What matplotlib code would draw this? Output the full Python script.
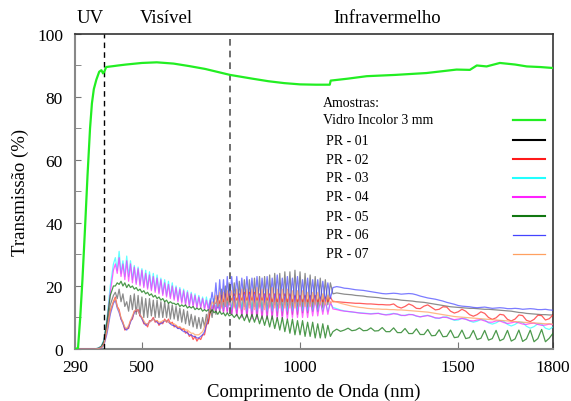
import numpy as np
import matplotlib
matplotlib.use("Agg")
import matplotlib.pyplot as plt

plt.rcParams['font.family'] = ['Liberation Serif', 'DejaVu Serif']

# ---------------- data ----------------
vidro_wl = [290, 298, 305, 312, 320, 328, 336, 342, 348, 356, 365, 372, 377, 381, 387, 394, 410, 425, 450, 500,
            547, 600, 650, 700, 779, 850, 900, 950, 1000, 1050, 1094, 1097, 1150, 1211, 1300, 1400, 1495, 1537,
            1559, 1590, 1632, 1680, 1717, 1760, 1800]
vidro_t = [0, 0.3, 10, 22, 38, 55, 70, 78, 82.5, 85.5, 88, 88.5, 87.5, 88, 89.5, 89.6, 89.8, 90, 90.3, 90.8,
           91, 90.6, 89.8, 88.9, 87, 85.8, 85, 84.4, 84, 83.9, 83.9, 85.2, 85.8, 86.6, 87, 87.6, 88.7, 88.6,
           90, 89.7, 90.8, 90.3, 89.7, 89.5, 89.2]

ONSET_WL = [290, 350, 362, 372, 380, 390, 400, 410]
VIS_WL = np.arange(416, 777, 6)     # 61 samples
NIR_WL = np.arange(784, 1097, 8)    # 40 samples
IR_WL = np.arange(1104, 1801, 12)   # 59 samples

# PR-01 (black)
pr01_on = [0, 0, 0.2, 0.8, 2.5, 8, 14, 17]
pr01_vis = [18, 16, 19, 15, 17.5, 13.5, 15, 12, 17, 12.5, 17.5, 11, 17, 10.5, 16.5, 10, 16, 10, 16, 10.5,
            15.5, 10, 15.5, 10, 15, 10, 15, 10, 14.5, 9.5, 14, 9.5, 13.5, 9, 13, 8.5, 12.5, 8, 12, 7.5,
            11, 7, 10.5, 6.5, 10, 6.5, 10, 7, 11, 8, 13, 10, 15, 11, 17, 12, 19, 12, 20, 12, 21]
pr01_nir = [11, 21, 11, 21.5, 11, 22, 10.5, 22, 10.5, 22.5, 10.5, 23, 10.5, 23, 10.5, 23.5, 10.5, 24, 10.5, 24,
            10.5, 24.5, 11, 24.5, 11, 25, 11, 24.5, 11.5, 24, 11.5, 23.5, 12, 23, 12, 22.5, 13, 22, 14, 21]
pr01_ir = [17.5, 17.8, 17.6, 17.4, 17.3, 17.2, 17.0, 16.9, 16.8, 16.6, 16.5, 16.4, 16.3, 16.1, 16.0, 15.9,
           15.8, 15.7, 15.5, 15.4, 15.3, 15.2, 15.0, 14.9, 14.8, 14.6, 14.4, 14.2, 14.0, 13.8, 13.6, 13.4,
           13.3, 13.2, 13.1, 13.0, 12.9, 12.9, 12.8, 12.7, 12.6, 12.6, 12.5, 12.4, 12.3, 12.2, 12.1, 12.0,
           11.8, 11.6, 11.5, 11.3, 11.2, 11.1, 11.0, 10.9, 10.9, 10.8, 10.8]

# PR-02 (red)
pr02_on = [0, 0, 0.1, 0.5, 1.5, 6, 12, 15]
pr02_vis = [16.5, 13.5, 12.5, 9.5, 8.5, 6, 6.5, 6.5, 9, 9.5, 12, 12, 12.5, 10.5, 10, 8, 8, 7, 9, 9,
            10, 8.5, 9, 7.5, 8.5, 8, 9.5, 8.5, 9.5, 8, 8.5, 7, 7.5, 6.5, 7, 6, 6.5, 5, 5.5, 4,
            4.5, 3, 4, 2.5, 3.5, 3, 4.5, 4.5, 7.5, 8.5, 11.5, 12.5, 14.5, 14.5, 16.5, 14.5, 17, 15, 17.5, 15.5, 17.5]
pr02_nir = [15.5, 17.5, 15.5, 17.5, 15.5, 18, 15.5, 18, 15.5, 18, 15.5, 17.5, 15.5, 17.5, 15.5, 17.5, 15, 17.5,
            15, 17.5, 15, 17.5, 15, 17.5, 15, 17, 15, 17, 15, 17, 15, 17, 15, 17, 15, 16.5, 15, 16.5, 15, 16.5]
pr02_ir = [15.0, 15.0, 14.9, 14.8, 14.7, 14.6, 14.5, 14.5, 14.4, 14.3, 14.3, 14.2, 14.1, 14.1, 14.0, 14.0,
           14.3, 13.4, 13.0, 13.5, 14.3, 13.8, 12.9, 12.8, 13.6, 14.0, 13.2, 12.4, 12.6, 13.4, 13.3, 12.0,
           11.4, 11.8, 12.6, 12.0, 10.9, 10.4, 10.9, 11.8, 11.3, 10.0, 9.4, 9.9, 11.0, 10.8, 9.4, 8.9,
           9.5, 10.8, 10.6, 9.1, 8.7, 9.4, 10.7, 10.6, 9.2, 9.6, 10.8]

# PR-03 (cyan)
pr03_on = [0, 0, 0.3, 1, 3, 10, 20, 27]
pr03_vis = [29, 25, 31, 24, 28, 23, 29.5, 23, 28, 22, 26.5, 21, 26, 20.5, 25.5, 20, 25, 19.5, 24.5, 19,
            24, 18.5, 23.5, 18, 22.5, 17.5, 22, 17, 21.5, 16.5, 21, 16, 20, 15.5, 19.5, 15, 19, 14.5, 18.5, 14,
            18, 14, 17.5, 13.5, 17, 13.5, 16.5, 13, 16.5, 13, 16, 12.5, 16, 12.5, 15.5, 12.5, 15.5, 12.5, 15.5, 13, 16]
pr03_nir = [12.5, 16.5, 12.5, 17, 12.5, 17, 12, 17, 12, 17, 12, 17, 12, 16.5, 12, 16.5, 12, 16.5, 12, 16.5,
            12, 16.5, 12, 16, 12, 16, 12, 16, 12, 15.5, 12, 15.5, 12, 15.5, 12, 15, 12, 15, 12, 14.5]
pr03_ir = [13.2, 12.8, 12.4, 12.1, 11.9, 11.7, 11.6, 11.5, 11.4, 11.3, 11.2, 11.3, 11.3, 11.0, 10.9, 11.1,
           11.3, 11.0, 10.6, 10.7, 11.0, 10.9, 10.4, 10.2, 10.5, 10.7, 10.3, 9.8, 9.7, 10.1, 10.2, 9.6,
           9.1, 9.2, 9.7, 9.6, 8.9, 8.5, 8.8, 9.4, 9.2, 8.3, 7.9, 8.3, 9.0, 8.8, 7.8, 7.3, 7.8, 8.6,
           8.4, 7.2, 6.6, 7.1, 8.0, 7.9, 6.6, 6.2, 7.0]

# PR-04 (magenta)
pr04_on = [0, 0, 0.2, 0.8, 2.5, 9, 18, 25]
pr04_vis = [27, 24, 29, 23, 27, 22, 28, 21.5, 27, 21, 26, 20.5, 25.5, 20, 25, 19.5, 24, 19, 23.5, 18.5,
            23, 18, 22.5, 17.5, 22, 17, 21, 16.5, 20.5, 16, 20, 15.5, 19.5, 15, 19, 14.5, 18.5, 14, 18, 13.5,
            17.5, 13.5, 17, 13, 16.5, 13, 16, 12.5, 15.5, 12.5, 15.5, 12, 15, 12, 15, 12, 15, 11.5, 15.5, 11.5, 16]
pr04_nir = [11, 16.5, 10.5, 17, 10, 17, 10, 17, 9.5, 17, 9.5, 17, 9.5, 17, 9.5, 17, 9.5, 17, 9.5, 17,
            9.5, 16.5, 9.5, 16.5, 10, 16.5, 10, 16.5, 10, 16, 10, 16, 10.5, 16, 10.5, 15.5, 11, 15.5, 11, 15]
pr04_ir = [12.7, 12.5, 12.2, 12.0, 11.9, 11.8, 11.6, 11.4, 11.3, 11.2, 11.1, 11.2, 11.3, 11.0, 10.8, 10.9,
           11.2, 11.1, 10.7, 10.6, 10.9, 10.9, 10.5, 10.2, 10.4, 10.6, 10.3, 9.9, 9.8, 10.1, 10.0, 9.6,
           9.3, 9.5, 9.7, 9.4, 9.0, 8.9, 9.2, 9.3, 8.9, 8.5, 8.5, 8.9, 8.9, 8.4, 8.1, 8.3, 8.6, 8.3,
           7.9, 7.8, 8.1, 8.2, 7.8, 7.5, 7.6, 7.9, 7.7]

# PR-05 (dark green)
pr05_on = [0, 0, 0.2, 0.8, 2.5, 9, 17, 20]
pr05_vis = [20, 21, 20.5, 21.5, 20, 21, 19.5, 20.5, 19.5, 20, 19, 19.5, 18.5, 19, 18, 18.5, 17.5, 18, 17, 17.5,
            16.5, 17, 16, 16.5, 15.5, 16, 15, 15.5, 14.5, 15, 14.5, 14.5, 14, 14.5, 13.5, 14, 13.5, 14, 13, 13.5,
            13, 13.5, 12.5, 13, 12.5, 13, 12, 12.5, 12, 12.5, 11.5, 12.5, 11.5, 12, 11, 12, 11, 11.5, 10.5, 11.5, 10.5]
pr05_nir = [11, 10, 11, 9.5, 11, 9, 11, 8.5, 11, 8.5, 11, 8, 10.5, 7.5, 10.5, 7, 10.5, 6.5, 10, 6,
            10, 5.5, 9.5, 5, 9.5, 4.5, 9, 4.5, 9, 4, 8.5, 4, 8.5, 3.5, 8, 3.5, 8, 3.5, 7.5, 4]
pr05_ir = [5.5, 6.3, 5.6, 6.0, 6.6, 5.8, 6.0, 6.7, 5.8, 5.9, 6.7, 5.7,
           5.8, 6.8, 5.5, 5.5, 6.7, 5.2, 5.2, 6.5, 4.9, 4.9, 6.4, 4.6,
           4.6, 6.2, 4.2, 4.3, 6.1, 3.9, 4.0, 6.0, 3.6, 3.8, 6.0, 3.3,
           3.6, 5.9, 3.0, 3.4, 5.9, 2.8, 3.3, 5.9, 2.6, 3.2, 5.9, 2.5,
           3.2, 6.0, 2.4, 3.2, 6.0, 2.3, 3.3, 6.2, 2.3, 3.4, 5.0]

# PR-06 (blue)
pr06_on = [0, 0, 0.1, 0.4, 1.2, 5, 11, 14.5]
pr06_vis = [15.5, 13, 11.5, 9.5, 8, 6.5, 6, 7, 8.5, 10, 11.5, 12.5, 12, 11, 9.5, 8.5, 7.5, 8, 8.5, 9,
            9.5, 9, 8.5, 8, 8, 8.5, 9, 9, 8.5, 8, 7.5, 7.5, 7, 6.5, 6.5, 6, 5.5, 5.5, 5, 4.5,
            4.5, 4, 4, 3.5, 3.5, 4, 4.5, 5.5, 8, 11, 14, 18, 14, 21, 13, 22, 13.5, 22, 13.5, 23, 14]
pr06_nir = [23, 13.5, 23, 13.5, 22.5, 13.5, 23, 14, 22.5, 13.5, 23, 13.5, 22.5, 14, 23, 13.5, 22.5, 14, 23.5, 14,
            22.5, 14, 23, 14, 22.5, 14.5, 23, 14, 22, 14.5, 22.5, 14.5, 22, 14.5, 22, 15, 21.5, 15, 21, 16]
pr06_ir = [19.5, 19.8, 19.6, 19.3, 19.2, 19.0, 18.8, 18.7, 18.6, 18.4, 18.2, 18.0, 17.8, 17.6, 17.5, 17.6,
           17.7, 17.6, 17.4, 17.5, 17.6, 17.5, 17.2, 16.8, 16.5, 16.2, 16.0, 15.8, 15.5, 15.2, 14.8, 14.5,
           14.2, 13.8, 13.6, 13.5, 13.4, 13.2, 13.1, 13.2, 13.3, 13.1, 12.9, 13.0, 13.1, 13.0, 12.8, 12.8,
           12.9, 12.8, 12.6, 12.7, 12.8, 12.7, 12.5, 12.5, 12.6, 12.4, 12.3]

# PR-07 (orange)
pr07_on = [0, 0, 0.1, 0.5, 1.5, 6, 12, 15]
pr07_vis = [16, 13.5, 12, 10, 8.5, 7, 6.5, 7.5, 9, 10.5, 12, 12.5, 12, 11, 10, 9, 8, 8, 8.5, 9,
            9.5, 9, 9, 8.5, 8.5, 9, 9, 9, 8.5, 8.5, 8, 8, 7.5, 7, 7, 6.5, 6.5, 6, 6, 5.5,
            5, 5, 4.5, 4.5, 4.5, 5, 5.5, 7, 9, 11, 13, 15, 14, 17, 13.5, 18, 13, 18, 13.5, 18.5, 14]
pr07_nir = [18.5, 13, 19, 13, 19, 12.5, 19, 13, 19, 12.5, 19.5, 13, 19, 12.5, 19, 13, 19.5, 13, 19, 13,
            19, 13, 19, 13, 18.5, 13, 18.5, 13.5, 18.5, 13.5, 18, 13.5, 18, 14, 18, 14, 17.5, 14, 17, 14.5]
pr07_ir = [15.3, 14.9, 14.5, 14.2, 13.9, 13.6, 13.4, 13.2, 13.1, 12.9, 12.8, 12.7, 12.7, 12.6, 12.6, 12.5,
           12.5, 12.4, 12.4, 12.3, 12.2, 12.1, 12.0, 11.9, 11.8, 11.7, 11.5, 11.3, 11.1, 10.9, 10.7, 10.5,
           10.3, 10.2, 10.1, 10.0, 9.9, 9.8, 9.7, 9.6, 9.5, 9.4, 9.3, 9.2, 9.1, 9.0, 8.9, 8.8,
           8.7, 8.6, 8.5, 8.4, 8.3, 8.3, 8.2, 8.1, 8.0, 8.0, 7.9]

labels = ["Vidro Incolor 3 mm", "PR - 01", "PR - 02", "PR - 03", "PR - 04", "PR - 05", "PR - 06", "PR - 07"]
colors = ["#22ee22", "#000000", "#ff1a1a", "#22ffff", "#ff22ff", "#117711", "#4444ff", "#ffa060"]
x_ticks = [290, 500, 1000, 1500, 1800]
y_ticks = [0, 20, 40, 60, 80, 100]
region_names = ["UV", "Visível", "Infravermelho"]

# ---------------- build series ----------------
wl_all = np.concatenate([ONSET_WL, VIS_WL, NIR_WL, IR_WL])
pr_series = [
    (pr01_on, pr01_vis, pr01_nir, pr01_ir),
    (pr02_on, pr02_vis, pr02_nir, pr02_ir),
    (pr03_on, pr03_vis, pr03_nir, pr03_ir),
    (pr04_on, pr04_vis, pr04_nir, pr04_ir),
    (pr05_on, pr05_vis, pr05_nir, pr05_ir),
    (pr06_on, pr06_vis, pr06_nir, pr06_ir),
    (pr07_on, pr07_vis, pr07_nir, pr07_ir),
]

fig = plt.figure(figsize=(5.71, 4.02), dpi=100)
ax = fig.add_axes([0.1322, 0.1294, 0.8363, 0.7836])

ax.plot(vidro_wl, vidro_t, color=colors[0], lw=1.6, zorder=5)
alphas = [0.45, 0.7, 0.7, 0.7, 0.75, 0.7, 0.75]
for i, parts in enumerate(pr_series):
    vals = np.concatenate([np.asarray(p, dtype=float) for p in parts])
    ax.plot(wl_all, vals, color=colors[i + 1], lw=0.9, alpha=alphas[i], zorder=3)

ax.axvline(380, color="black", lw=1.0, ls=(0, (4, 3)), zorder=4)
ax.axvline(780, color="#555555", lw=1.2, ls=(0, (4, 3)), zorder=4)

ax.set_xlim(290, 1800)
ax.set_ylim(0, 100)
ax.set_xticks(x_ticks)
ax.set_yticks(y_ticks)
ax.set_yticks(np.arange(10, 100, 20), minor=True)
ax.tick_params(axis='both', which='both', direction='in', color='#777777', labelsize=12.5,
               top=False, right=False)
ax.tick_params(axis='y', which='major', length=4, pad=9)
ax.tick_params(axis='y', which='minor', length=4)
ax.tick_params(axis='x', which='major', length=5, pad=7)

for side in ['left', 'bottom']:
    ax.spines[side].set_color('#888888')
    ax.spines[side].set_linewidth(1.5)
for side in ['top', 'right']:
    ax.spines[side].set_color('#333333')
    ax.spines[side].set_linewidth(1.2)

ax.set_xlabel("Comprimento de Onda (nm)", fontsize=13.5, labelpad=6)
ax.set_ylabel("Transmissão (%)", fontsize=13.5, labelpad=6)

# region names
fig.text(0.158, 0.953, region_names[0], ha='center', va='center', fontsize=13.5)
fig.text(0.291, 0.953, region_names[1], ha='center', va='center', fontsize=13.5)
fig.text(0.678, 0.953, region_names[2], ha='center', va='center', fontsize=13.5)

# custom legend
ax.text(0.518, 0.784, "Amostras:", transform=ax.transAxes, va='center', ha='left', fontsize=10)
leg_y = [0.727, 0.663, 0.603, 0.543, 0.483, 0.422, 0.362, 0.302]
leg_lw = [1.6, 1.5, 1.5, 1.5, 1.5, 1.5, 0.9, 0.9]
for i, (lab, col) in enumerate(zip(labels, colors)):
    xt = 0.518 if i == 0 else 0.525
    ax.text(xt, leg_y[i], lab, transform=ax.transAxes, va='center', ha='left', fontsize=10)
    ax.plot([0.916, 0.983], [leg_y[i], leg_y[i]], transform=ax.transAxes, color=col, lw=leg_lw[i])

fig.savefig("out.png", dpi=100)
